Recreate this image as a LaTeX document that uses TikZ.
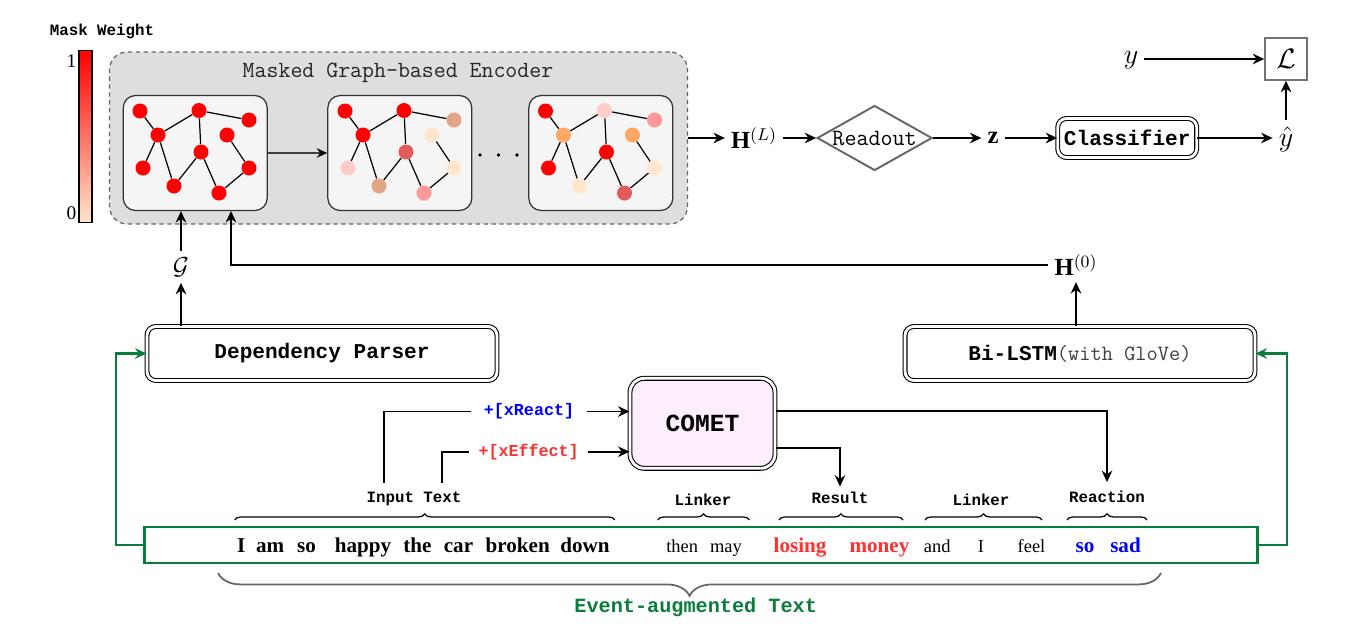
\RequirePackage{fix-cm}
\documentclass[tikz,border=0pt]{standalone}
\usepackage{fontspec}
\setmainfont{Liberation Serif}
\setmonofont{Liberation Mono}
\newfontfamily\thinmono{Latin Modern Mono}
\usetikzlibrary{arrows.meta,shapes.geometric,decorations.pathreplacing}

\definecolor{mwpeach}{HTML}{FFE6CC}
\definecolor{mwpink}{HTML}{FFCCCC}
\definecolor{mwtan}{HTML}{E1A587}
\definecolor{mwrose}{HTML}{E05C5C}
\definecolor{mwsalmon}{HTML}{FF9999}
\definecolor{mworange}{HTML}{FFA866}
\definecolor{encgray}{HTML}{DEDEDE}
\definecolor{panelgray}{HTML}{F5F5F5}
\definecolor{evgreen}{HTML}{0A7D3C}
\definecolor{cometpink}{HTML}{FCEEFC}
\definecolor{xblue}{HTML}{0000FF}
\definecolor{xred}{HTML}{FF3030}

\begin{document}
\begin{tikzpicture}[x=0.02cm, y=-0.02cm,
    arr/.style={line width=1.1pt, -{Stealth[length=6.5pt,width=6pt]}},
    garr/.style={line width=1.3pt, draw=evgreen, -{Stealth[length=6.5pt,width=6pt]}},
    dbl/.style={draw, double, double distance=1.6pt, line width=0.6pt, rounded corners=5pt, fill=white},
    panel/.style={draw=black!80, line width=0.7pt, fill=panelgray, rounded corners=7pt, minimum width=2.88cm, minimum height=2.3cm},
    gn/.style={circle, inner sep=0pt, minimum size=0.3cm},
    lbl/.style={font=\ttfamily\bfseries\fontsize{9}{9}\selectfont, inner sep=1pt},
    brc/.style={line width=0.7pt, decorate, decoration={brace, amplitude=3.5pt}},
    wb/.style={anchor=base, inner sep=0pt, font=\bfseries\fontsize{12}{12}\selectfont},
    wn/.style={anchor=base, inner sep=0pt, font=\fontsize{10.5}{10.5}\selectfont},
    mth/.style={font=\fontsize{14}{16}\selectfont}]
    \useasboundingbox (0,0) rectangle (1366,640);

    % マスクの重み
    \node[draw, line width=1.1pt, top color=red, bottom color=mwpeach, minimum width=0.26cm, minimum height=3.44cm, inner sep=0pt] (Bar) at (85.8,136.5) {};
    \node[font=\fontsize{11}{11}\selectfont] (B1) at (71.5,61) {1};
    \node[font=\fontsize{11}{11}\selectfont] (B0) at (71.5,213) {0};
    \node[lbl] (MW) at (102,31) {Mask Weight};

    % エンコーダ
    \node[draw=black!60, dash pattern=on 2.5pt off 2pt, line width=0.7pt, fill=encgray, rounded corners=10pt, minimum width=11.56cm, minimum height=3.44cm] (Enc) at (398.5,138) {};
    \node[font=\thinmono\fontsize{13.2}{13.2}\selectfont, text=black!85] (EncT) at (398,73) {Masked Graph-based Encoder};
    \node[panel] (P1) at (195.2,153) {};
    \node[panel] (P2) at (399.8,153) {};
    \node[panel] (P3) at (600.8,153) {};

    \foreach \i/\x/\y/\ca/\cb/\cc in {1/140/111/red/red/red, 2/158/135/red/red/mworange,
        3/199/110.5/red/red/mwpink, 4/249/120/red/mwtan/mwsalmon, 5/227/135/red/mwpeach/mworange,
        6/201/152/red/mwrose/red, 7/143/168/red/mwpink/red, 8/174/186/red/mwtan/mwpeach,
        9/219/193/red/mwsalmon/mwrose, 10/249/168/red/mwpeach/mwpeach} {
        \node[gn, fill=\ca] (a\i) at (\x,\y) {};
        \node[gn, fill=\cb] (b\i) at (\x+205,\y) {};
        \node[gn, fill=\cc] (c\i) at (\x+405.5,\y) {};
    }
    \foreach \u/\v in {1/2, 2/3, 3/4, 2/7, 2/8, 3/6, 6/8, 6/9, 5/10, 10/9}
        \foreach \g in {a,b,c}
            \draw[line width=0.7pt] (\g\u) -- (\g\v);
    \foreach \x in {480,498.5,517}
        \fill (\x,155) circle[radius=1.1pt];
    \draw[line width=0.7pt, draw=black!75, -{Stealth[length=6pt,width=5.5pt,color=black]}] (P1) -- (P2);

    % 出力側
    \node[mth] (HL) at (754,138) {$\mathbf{H}^{(L)}$};
    \node[diamond, draw=black!60, line width=1.1pt, minimum width=2.3cm, minimum height=1.3cm, aspect=1.77, inner sep=0pt, font=\thinmono\fontsize{13.3}{13.3}\selectfont] (Rd) at (874.6,138) {Readout};
    \node[mth] (Z) at (993,138) {$\mathbf{z}$};
    \node[dbl, minimum width=2.78cm, minimum height=0.78cm, font=\ttfamily\bfseries\fontsize{12}{12}\selectfont] (Cls) at (1127.2,138) {Classifier};
    \node[font=\fontsize{16}{18}\selectfont] (Yhat) at (1286,139) {$\hat{y}$};
    \node[draw=black!55, line width=0.9pt, minimum size=0.84cm, inner sep=0pt, font=\fontsize{16}{16}\selectfont] (Loss) at (1286,59) {$\mathcal{L}$};
    \node[font=\fontsize{16}{18}\selectfont] (Y) at (1131,60) {$y$};

    \draw[arr] (Enc) -- (HL);
    \draw[arr] (HL) -- (Rd);
    \draw[arr] (Rd) -- (Z);
    \draw[arr] (Z) -- (Cls);
    \draw[arr] (Cls) -- (Cls -| Yhat.west);
    \draw[arr] (Yhat) -- (Loss);
    \draw[arr] (Y.east |- Loss) -- (Loss);

    % 入力側
    \node[mth] (G) at (181,267) {$\mathcal{G}$};
    \node[mth] (H0) at (1076,265) {$\mathbf{H}^{(0)}$};
    \coordinate (P1in) at (231,211);
    \node[dbl, minimum width=7.0cm, minimum height=1.08cm, font=\ttfamily\bfseries\fontsize{12}{12}\selectfont] (Parser) at (322,353.5) {Dependency Parser};
    \node[dbl, minimum width=7.0cm, minimum height=1.08cm, font=\thinmono\fontsize{12.4}{12.4}\selectfont] (Bi) at (1080,353.5) {{\ttfamily\bfseries\fontsize{12}{12}\selectfont Bi-LSTM}\textcolor{black!75}{(with GloVe)}};

    \draw[arr] (G) -- (G |- P1.south);
    \draw[arr] (G |- Parser.north) -- (G);
    \draw[arr] (H0) -| (P1in);
    \draw[arr] (Bi.north -| H0) -- (H0);

    % COMET
    \node[dbl, fill=cometpink, rounded corners=8pt, minimum width=2.9cm, minimum height=1.8cm, font=\ttfamily\bfseries\fontsize{14}{14}\selectfont] (Comet) at (702.5,423.3) {COMET};
    \node[font=\ttfamily\bfseries\fontsize{9.5}{9.5}\selectfont, text=xblue, inner xsep=7pt] (XR) at (529,411.5) {+[xReact]};
    \node[font=\ttfamily\bfseries\fontsize{9.5}{9.5}\selectfont, text=xred, inner xsep=5pt] (XE) at (528.6,451.7) {+[xEffect]};
    \coordinate (S1) at (384,483);
    \coordinate (S2) at (441.7,483);
    \draw[line width=1.1pt] (S1) |- (XR);
    \draw[line width=1.1pt] (S2) |- (XE);
    \draw[arr] (XR) -- (XR -| Comet.west);
    \draw[arr] (XE) -- (XE -| Comet.west);

    \node[lbl] (IT) at (414,499) {Input Text};
    \node[lbl] (Lk1) at (703,500) {Linker};
    \node[lbl] (Res) at (840,498) {Result};
    \node[lbl] (Lk2) at (981,500) {Linker};
    \node[lbl] (Rea) at (1107,497) {Reaction};
    \draw[arr, shorten >=4pt] ([yshift=7pt]Comet.east) -| (Rea);
    \draw[arr, shorten >=2pt] ([yshift=-13.8pt]Comet.east) -| (Res);

    % 文
    \node[draw=evgreen, line width=1.6pt, minimum width=22.26cm, minimum height=0.72cm, inner sep=0pt] (Txt) at (700.9,544.9) {};
    \foreach \w/\x [count=\i] in {I/241.2, am/270.2, so/306.5, happy/363, the/417.5, car/458.5, broken/517.7, down/585}
        \node[wb] (wa\i) at (\x,552) {\w};
    \foreach \w/\x [count=\i] in {then/682.2, may/725.9, and/937.3, I/981, feel/1031.5}
        \node[wn] (wn\i) at (\x,552) {\w};
    \node[wb, text=xred] (wr1) at (800.1,552) {losing};
    \node[wb, text=xred] (wr2) at (879.5,552) {money};
    \node[wb, text=xblue] (wc1) at (1085,552) {so};
    \node[wb, text=xblue] (wc2) at (1125.5,552) {sad};

    \foreach \a/\b in {234.7/614.7, 657.7/749.4, 778.9/903, 925/1042, 1067/1147}
        \draw[brc] (\a,520) -- (\b,520);
    \draw[draw=black!60, line width=1pt, decorate, decoration={brace, amplitude=13pt, mirror}] (218,573) -- (1161,573);
    \node[font=\ttfamily\bfseries\fontsize{11.5}{11.5}\selectfont, text=evgreen] (Ev) at (695.7,607) {Event-augmented Text};

    \draw[garr] (Txt.west) -- ++(-27,0) |- (Parser.west);
    \draw[garr] (Txt.east) -- ++(28,0) |- (Bi.east);
\end{tikzpicture}
\end{document}
